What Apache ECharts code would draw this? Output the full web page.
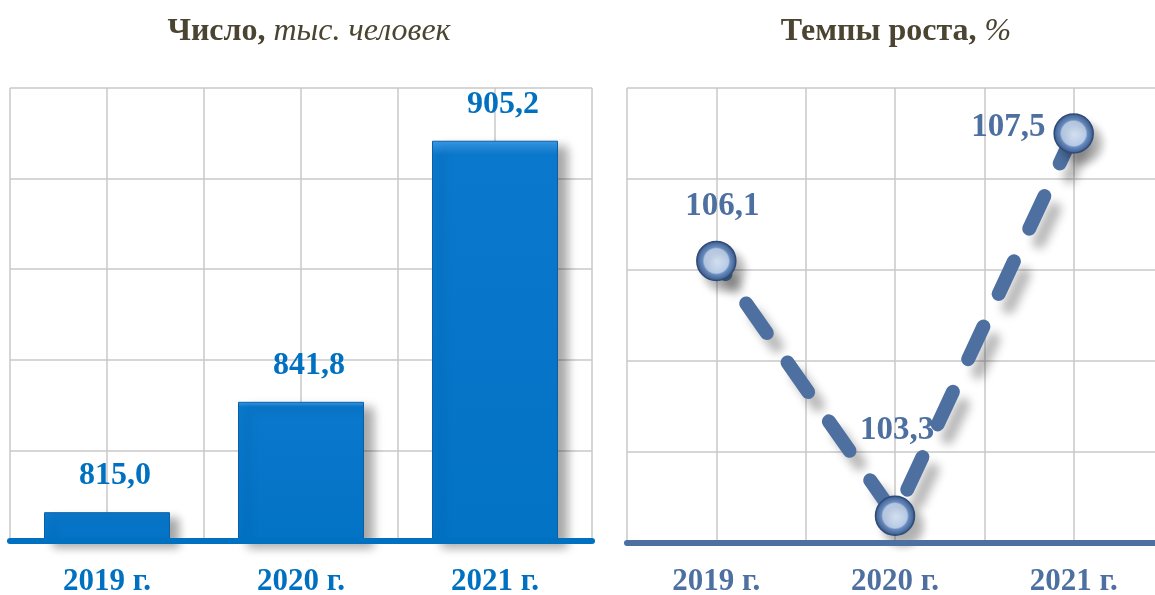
<!DOCTYPE html>
<html><head><meta charset="utf-8">
<script src="https://cdn.jsdelivr.net/npm/echarts@6/dist/echarts.min.js"></script>
<style>html,body{margin:0;padding:0;background:#fff}#c{width:1155px;height:595px}</style>
</head><body><div id="c"></div>
<script>
const categories = ['2019 г.', '2020 г.', '2021 г.'];
const countValues = [815.0, 841.8, 905.2];
const growthValues = [106.1, 103.3, 107.5];
const titleLeft = ['Число,', 'тыс. человек'];
const titleRight = ['Темпы роста,', '%'];

const FONT = '"Liberation Serif", "DejaVu Serif", serif';
const fmt = v => v.toFixed(1).replace('.', ',');
const gridColor = '#c9c9c9';
const slate = '#4d70a1';
const blue = '#0070c0';
const titleColor = '#4a4430';

const lineLabelCfg = [
  {position: 'top', distance: 18, offset: [6, 0]},
  {position: 'top', distance: 48, offset: [2, 0]},
  {position: 'left', distance: 8, offset: [0, -6]}
];

const titleRich = {
  b: {fontFamily: FONT, fontSize: 32, fontWeight: 'bold', fontStyle: 'normal', color: titleColor},
  i: {fontFamily: FONT, fontSize: 32, fontWeight: 'normal', fontStyle: 'italic', color: titleColor}
};

const chart = echarts.init(document.getElementById('c'));
chart.setOption({
  animation: false,
  title: [
    {text: '{b|' + titleLeft[0] + '}{i| ' + titleLeft[1] + '}', left: 304, top: 11, textAlign: 'center',
     textStyle: {fontWeight: 'normal', rich: titleRich}},
    {text: '{b|' + titleRight[0] + '}{i| ' + titleRight[1] + '}', left: 891, top: 11, textAlign: 'center',
     textStyle: {fontWeight: 'normal', rich: titleRich}}
  ],
  grid: [
    {left: 10, width: 582, top: 88, height: 453, outerBoundsMode: 'none', containLabel: false},
    {left: 627, width: 536, top: 88, height: 455, outerBoundsMode: 'none', containLabel: false}
  ],
  xAxis: [
    {type: 'category', gridIndex: 0, data: categories, z: 5,
     axisLine: {lineStyle: {color: blue, width: 6}}, axisTick: {show: false},
     axisLabel: {color: blue, fontFamily: FONT, fontSize: 31, fontWeight: 'bold', margin: 25},
     splitLine: {show: false}},
    {type: 'value', gridIndex: 0, min: 0, max: 6, interval: 1,
     axisLine: {show: false}, axisTick: {show: false}, axisLabel: {show: false},
     splitLine: {show: true, lineStyle: {color: gridColor, width: 1.5}}},
    {type: 'category', gridIndex: 1, data: categories, z: 5,
     axisLine: {lineStyle: {color: slate, width: 6}}, axisTick: {show: false},
     axisLabel: {color: slate, fontFamily: FONT, fontSize: 31, fontWeight: 'bold', margin: 23},
     splitLine: {show: false}},
    {type: 'value', gridIndex: 1, min: 0, max: 6, interval: 1,
     axisLine: {show: false}, axisTick: {show: false}, axisLabel: {show: false},
     splitLine: {show: true, lineStyle: {color: gridColor, width: 1.5}}}
  ],
  yAxis: [
    {type: 'value', gridIndex: 0, min: 808, max: 918,
     axisLine: {show: false}, axisTick: {show: false}, axisLabel: {show: false}, splitLine: {show: false}},
    {type: 'value', gridIndex: 0, min: 0, max: 5, interval: 1,
     axisLine: {show: false}, axisTick: {show: false}, axisLabel: {show: false},
     splitLine: {show: true, lineStyle: {color: gridColor, width: 1.5}}},
    {type: 'value', gridIndex: 1, min: 103, max: 108, interval: 1,
     axisLine: {show: false}, axisTick: {show: false}, axisLabel: {show: false},
     splitLine: {show: true, lineStyle: {color: gridColor, width: 1.5}}}
  ],
  series: [
    {type: 'bar', xAxisIndex: 0, yAxisIndex: 0, data: countValues, barWidth: 126,
     itemStyle: {
       color: new echarts.graphic.LinearGradient(0, 0, 0, 1, [
         {offset: 0, color: '#3a9ae8'}, {offset: 0.035, color: '#0a78cc'}, {offset: 1, color: '#0373c6'}]),
       borderColor: '#0a5fa6', borderWidth: 1,
       shadowColor: 'rgba(0,0,0,0.35)', shadowBlur: 10, shadowOffsetX: 9, shadowOffsetY: 6},
     label: {show: true, position: 'top', distance: 20, offset: [8, 0], formatter: p => fmt(p.value),
       color: blue, fontFamily: FONT, fontSize: 32, fontWeight: 'bold'}},
    {type: 'line', xAxisIndex: 2, yAxisIndex: 2, z: 4,
     data: growthValues.map((v, i) => ({value: v, label: lineLabelCfg[i]})),
     symbol: 'circle', symbolSize: 39,
     lineStyle: {color: slate, width: 14, type: [36, 36], cap: 'round', dashOffset: 20,
       shadowColor: 'rgba(0,0,0,0.28)', shadowBlur: 10, shadowOffsetX: 10, shadowOffsetY: 13},
     itemStyle: {
       color: new echarts.graphic.RadialGradient(0.5, 0.5, 0.5, [
         {offset: 0, color: '#d6e2f2'}, {offset: 0.6, color: '#b7cae6'},
         {offset: 0.68, color: '#6a8dc0'}, {offset: 0.88, color: '#4a6c9f'}, {offset: 1, color: '#34527f'}]),
       borderColor: '#2f4b78', borderWidth: 1.5,
       shadowColor: 'rgba(0,0,0,0.3)', shadowBlur: 8, shadowOffsetX: 8, shadowOffsetY: 10},
     label: {show: true, formatter: p => fmt(p.value),
       color: slate, fontFamily: FONT, fontSize: 33, fontWeight: 'bold'}}
  ]
});
</script></body></html>
